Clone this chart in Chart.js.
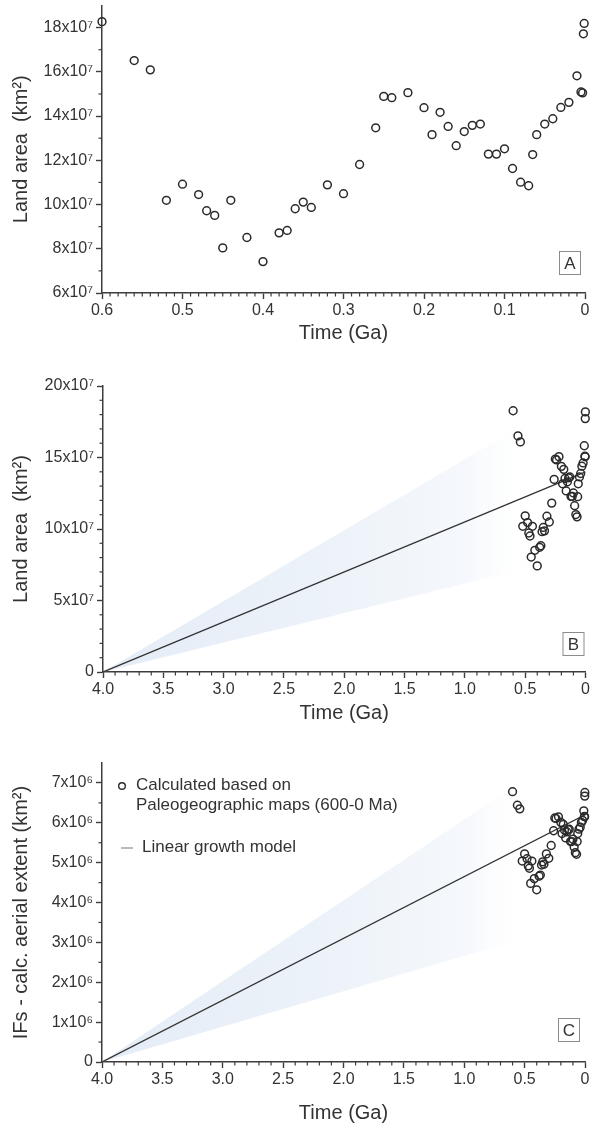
<!DOCTYPE html>
<html>
<head>
<meta charset="utf-8">
<script src="https://cdn.jsdelivr.net/npm/chart.js@4.4.1/dist/chart.umd.min.js"></script>
<style>
  html, body { margin: 0; padding: 0; background: #fff; }
  #wrap { position: relative; width: 591px; height: 1126px; }
  canvas { position: absolute; left: 0; }
</style>
</head>
<body>
<div id="wrap">
  <canvas id="chartA" style="top:0px" width="591" height="345"></canvas>
  <canvas id="chartB" style="top:345px" width="591" height="380"></canvas>
  <canvas id="chartC" style="top:725px" width="591" height="401"></canvas>
</div>
<script>
// time before present (Ga)
const timeGa = [0.6, 0.56, 0.54, 0.52, 0.5, 0.48, 0.47, 0.46, 0.45, 0.44, 0.42, 0.4, 0.38, 0.37, 0.36,
  0.35, 0.34, 0.32, 0.3, 0.28, 0.26, 0.25, 0.24, 0.22, 0.2, 0.19, 0.18, 0.17, 0.16, 0.15, 0.14, 0.13,
  0.12, 0.11, 0.1, 0.09, 0.08, 0.07, 0.065, 0.06, 0.05, 0.04, 0.03, 0.02, 0.01, 0.005, 0.003, 0.002, 0.001];
// land area, x10^7 km2
const landArea = [18.27, 16.51, 16.09, 10.19, 10.92, 10.45, 9.72, 9.51, 8.04, 10.19, 8.51, 7.42, 8.72, 8.83, 9.81,
  10.11, 9.87, 10.89, 10.49, 11.81, 13.47, 14.89, 14.83, 15.06, 14.38, 13.16, 14.17, 13.53, 12.66, 13.30, 13.58, 13.64,
  12.28, 12.28, 12.52, 11.63, 11.01, 10.85, 12.26, 13.16, 13.64, 13.88, 14.39, 14.62, 15.82, 15.09, 15.05, 17.72, 18.19];
// IFs calc. aerial extent, x10^6 km2
const ifsExtent = [6.78, 6.44, 6.35, 5.04, 5.22, 5.10, 4.92, 4.86, 4.48, 5.04, 4.60, 4.32, 4.66, 4.69, 4.94,
  5.02, 4.96, 5.22, 5.11, 5.43, 5.80, 6.12, 6.11, 6.15, 6.01, 5.73, 5.96, 5.82, 5.62, 5.77, 5.83, 5.84,
  5.53, 5.53, 5.59, 5.39, 5.25, 5.21, 5.53, 5.73, 5.84, 5.89, 6.01, 6.06, 6.30, 6.16, 6.15, 6.67, 6.76];

// linear growth model and its envelope
const modelTime = [4.0, 0];
const modelLand = [0, 14.0];
const modelIfs = [0, 6.2];
const bandTime = [4.0, 0.45];
const landBandHigh = [0, 17.6];
const landBandLow = [0, 7.3];
const ifsBandHigh = [0, 7.2];
const ifsBandLow = [0, 3.15];

// axis ticks
const shortTimeTicks = [0.6, 0.5, 0.4, 0.3, 0.2, 0.1, 0];
const longTimeTicks = [4.0, 3.5, 3.0, 2.5, 2.0, 1.5, 1.0, 0.5, 0];
const landTicksA = [6, 8, 10, 12, 14, 16, 18];
const landTicksB = [0, 5, 10, 15, 20];
const ifsTicks = [0, 1, 2, 3, 4, 5, 6, 7];

const pointsLabel = ['Calculated based on', 'Paleogeographic maps (600-0 Ma)'];
const modelLabel = 'Linear growth model';

const family = "'Liberation Sans', Arial, Helvetica, sans-serif";
const ink = '#333333';
const axisInk = '#3d3d3d';

const timeLabel = v => v === 0 ? '0' : v.toFixed(1);
const powLabel = sup => v => v === 0 ? '0' : v + 'x10' + sup;
const pairs = (xs, ys) => xs.map((x, i) => ({ x: x, y: ys[i] }));

function axis(o) {
  return {
    type: 'linear',
    min: o.min,
    max: o.max,
    reverse: !!o.reverse,
    afterBuildTicks: s => { s.ticks = o.ticks.map(v => ({ value: v })); },
    afterFit: s => {
      if (o.width) s.width = o.width;
      if (o.height) s.height = o.height;
      s.paddingTop = 0; s.paddingBottom = 0; s.paddingLeft = 0; s.paddingRight = 0;
    },
    border: { display: true, color: axisInk, width: 1.5 },
    grid: { display: true, drawOnChartArea: false, drawTicks: true, tickLength: 6, tickColor: axisInk, tickWidth: 1.4 },
    ticks: { autoSkip: false, maxRotation: 0, padding: o.tickPad, color: ink, font: { family: family, size: 16 }, callback: o.label },
    title: { display: true, text: o.title, color: ink, font: { family: family, size: 20 }, padding: o.titlePad }
  };
}

function bandFill(context) {
  const chart = context.chart;
  if (!chart.chartArea) return 'rgb(235,241,248)';
  const x = chart.scales.x;
  const g = chart.ctx.createLinearGradient(x.getPixelForValue(bandTime[0]), 0, x.getPixelForValue(bandTime[1]), 0);
  g.addColorStop(0, 'rgb(228,236,246)');
  g.addColorStop(0.5, 'rgb(236,242,249)');
  g.addColorStop(0.85, 'rgb(245,248,252)');
  g.addColorStop(1, 'rgba(255,255,255,0)');
  return g;
}

function pointSet(ys) {
  return {
    type: 'scatter', label: pointsLabel.join(' '), data: pairs(timeGa, ys), order: 1, clip: false,
    pointRadius: 3.9, pointBorderWidth: 1.5, pointBorderColor: '#2a2a2a', pointBackgroundColor: 'rgba(0,0,0,0)'
  };
}

function modelSets(modelY, high, low) {
  return [
    { type: 'line', label: modelLabel, data: pairs(modelTime, modelY), order: 2, borderColor: '#333', borderWidth: 1.3, pointRadius: 0, fill: false },
    { type: 'line', data: pairs(bandTime, high), order: 3, borderWidth: 0, pointRadius: 0, fill: '+1', backgroundColor: bandFill },
    { type: 'line', data: pairs(bandTime, low), order: 3, borderWidth: 0, pointRadius: 0, fill: false }
  ];
}

// minor ticks, panel letter, in-plot legend
function decor(cfg) {
  return {
    id: 'decor',
    afterDraw(chart) {
      const c = chart.ctx, area = chart.chartArea;
      const xs = chart.scales.x, ys = chart.scales.y;
      c.save();
      c.strokeStyle = axisInk;
      c.lineWidth = 1.2;
      let n = Math.round((xs.max - xs.min) / cfg.minorX);
      for (let i = 1; i < n; i++) {
        const v = xs.min + i * cfg.minorX;
        if (cfg.xTicks.some(t => Math.abs(t - v) < 1e-6)) continue;
        const px = xs.getPixelForValue(v);
        c.beginPath(); c.moveTo(px, area.bottom); c.lineTo(px, area.bottom + 3.5); c.stroke();
      }
      n = Math.round((ys.max - ys.min) / cfg.minorY);
      for (let i = 1; i < n; i++) {
        const v = ys.min + i * cfg.minorY;
        if (cfg.yTicks.some(t => Math.abs(t - v) < 1e-6)) continue;
        const py = ys.getPixelForValue(v);
        c.beginPath(); c.moveTo(area.left, py); c.lineTo(area.left - 3.5, py); c.stroke();
      }
      // panel letter box
      const w = 21, h = 23;
      const bx = area.right - cfg.tagRight - w, by = area.bottom - cfg.tagBottom - h;
      c.strokeStyle = '#8c8c8c';
      c.lineWidth = 1;
      c.strokeRect(bx + 0.5, by + 0.5, w, h);
      c.fillStyle = ink;
      c.font = '17px ' + family;
      c.textAlign = 'center';
      c.textBaseline = 'middle';
      c.fillText(cfg.tag, bx + w / 2 + 0.5, by + h / 2 + 1.5);
      if (cfg.legend) {
        const lx = area.left, ly = area.top;
        c.font = '17px ' + family;
        c.textAlign = 'left';
        c.strokeStyle = '#2a2a2a';
        c.lineWidth = 1.4;
        c.beginPath(); c.arc(lx + 20, ly + 23, 3.3, 0, Math.PI * 2); c.stroke();
        c.fillText(pointsLabel[0], lx + 34, ly + 22);
        c.fillText(pointsLabel[1], lx + 34, ly + 42);
        c.strokeStyle = '#8a8a8a';
        c.lineWidth = 1.2;
        c.beginPath(); c.moveTo(lx + 19, ly + 85); c.lineTo(lx + 31, ly + 85); c.stroke();
        c.fillText(modelLabel, lx + 40, ly + 84);
      }
      c.restore();
    }
  };
}

function makeChart(id, datasets, padding, x, y, cfg) {
  return new Chart(document.getElementById(id), {
    type: 'scatter',
    data: { datasets: datasets },
    options: {
      responsive: false,
      animation: false,
      layout: { padding: padding },
      plugins: { legend: { display: false }, tooltip: { enabled: false } },
      elements: { line: { tension: 0 } },
      scales: { x: axis(x), y: axis(y) }
    },
    plugins: [decor(cfg)]
  });
}

// A: land area over the last 600 Ma
makeChart('chartA', [pointSet(landArea)],
  { top: 5, left: 0, right: 6, bottom: 0 },
  { min: 0, max: 0.6, reverse: true, ticks: shortTimeTicks, label: timeLabel, title: 'Time (Ga)', height: 52, tickPad: 2, titlePad: { top: 0, bottom: 0 } },
  { min: 6, max: 19, ticks: landTicksA, label: powLabel('⁷'), title: 'Land area  (km²)', width: 102, tickPad: 3, titlePad: { top: 9, bottom: 0 } },
  { minorX: 0.01, minorY: 1, xTicks: shortTimeTicks, yTicks: landTicksA, tag: 'A', tagRight: 5, tagBottom: 19 });

// B: land area with linear growth model since 4 Ga
makeChart('chartB', [pointSet(landArea)].concat(modelSets(modelLand, landBandHigh, landBandLow)),
  { top: 41, left: 0, right: 4, bottom: 0 },
  { min: 0, max: 4, reverse: true, ticks: longTimeTicks, label: timeLabel, title: 'Time (Ga)', height: 53, tickPad: 2, titlePad: { top: 0, bottom: 0 } },
  { min: 0, max: 20, ticks: landTicksB, label: powLabel('⁷'), title: 'Land area  (km²)', width: 103, tickPad: 3, titlePad: { top: 9, bottom: 0 } },
  { minorX: 0.1, minorY: 1, xTicks: longTimeTicks, yTicks: landTicksB, tag: 'B', tagRight: 2, tagBottom: 17 });

// C: IFs calculated aerial extent
makeChart('chartC', [pointSet(ifsExtent)].concat(modelSets(modelIfs, ifsBandHigh, ifsBandLow)),
  { top: 38, left: 0, right: 6, bottom: 0 },
  { min: 0, max: 4, reverse: true, ticks: longTimeTicks, label: timeLabel, title: 'Time (Ga)', height: 64, tickPad: 2, titlePad: { top: 0, bottom: 1 } },
  { min: 0, max: 7.5, ticks: ifsTicks, label: powLabel('⁶'), title: 'IFs - calc. aerial extent (km²)', width: 102, tickPad: 3, titlePad: { top: 9, bottom: 0 } },
  { minorX: 0.1, minorY: 0.5, xTicks: longTimeTicks, yTicks: ifsTicks, tag: 'C', tagRight: 6, tagBottom: 21, legend: true });
</script>
</body>
</html>
